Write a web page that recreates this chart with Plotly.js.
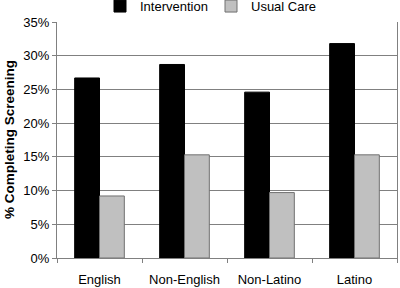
<!DOCTYPE html>
<html>
<head>
<meta charset="utf-8">
<script src="https://cdn.plot.ly/plotly-3.0.1.min.js"></script>
<style>html,body{margin:0;padding:0;background:#fff;}#chart{width:400px;height:288px;}</style>
</head>
<body>
<div id="chart"></div>
<script>
const categories = ["English", "Non-English", "Non-Latino", "Latino"];
const intervention = [0.267, 0.287, 0.246, 0.318];
const usualCare = [0.092, 0.153, 0.097, 0.153];
const yTickVals = [0, 0.05, 0.10, 0.15, 0.20, 0.25, 0.30, 0.35];
const yTickText = ["0%", "5%", "10%", "15%", "20%", "25%", "30%", "35%"];
const yTitle = "% Completing Screening";

const font = {family: "Liberation Sans, Arial, sans-serif", size: 13, color: "#000"};

const data = [
  {type: "bar", name: "Intervention", x: categories, y: intervention,
   marker: {color: "#000000", line: {color: "#000000", width: 1}}},
  {type: "bar", name: "Usual Care", x: categories, y: usualCare,
   marker: {color: "#c0c0c0", line: {color: "#707070", width: 1}}}
];

const layout = {
  width: 400, height: 288,
  margin: {l: 57, r: 3, t: 22, b: 30, pad: 0, autoexpand: false},
  paper_bgcolor: "#fff", plot_bgcolor: "#fff",
  font: font,
  barmode: "group", bargap: 0.416, bargroupgap: 0,
  showlegend: true,
  legend: {orientation: "h", xref: "container", yref: "paper",
           x: 0.25, xanchor: "left", y: 1.131, yanchor: "top",
           entrywidth: 66, entrywidthmode: "pixels",
           font: font, itemwidth: 30, tracegroupgap: 0, bgcolor: "rgba(0,0,0,0)"},
  xaxis: {type: "category", tickson: "boundaries", ticks: "outside", ticklen: 4,
          tickcolor: "#808080", showline: true, linecolor: "#808080", linewidth: 1,
          showgrid: false, tickfont: font, zeroline: false, ticklabelstandoff: 9,
          automargin: false},
  yaxis: {range: [0, 0.35], tickvals: yTickVals, ticktext: yTickText,
          ticks: "outside", ticklen: 4, tickcolor: "#808080",
          showline: true, linecolor: "#808080", linewidth: 1, mirror: true,
          showgrid: true, gridcolor: "#808080", gridwidth: 1, zeroline: false,
          tickfont: font, automargin: false},
  annotations: [{
    text: yTitle, showarrow: false, textangle: -90,
    xref: "paper", yref: "paper", x: -0.141, y: 0.5,
    xanchor: "center", yanchor: "middle",
    font: {family: "Liberation Sans, Arial, sans-serif", size: 13.5, color: "#000", weight: "bold"}
  }]
};

Plotly.newPlot("chart", data, layout, {staticPlot: true, displayModeBar: false});
</script>
</body>
</html>
